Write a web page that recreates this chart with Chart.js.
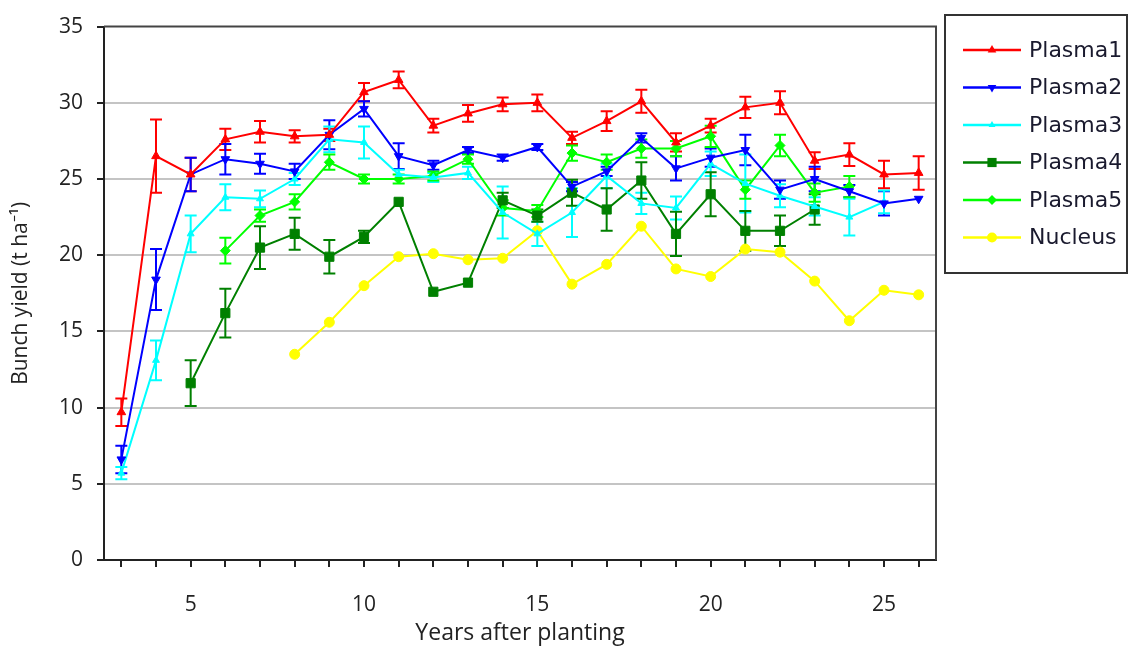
<!DOCTYPE html>
<html>
<head>
<meta charset="utf-8">
<script src="https://cdn.jsdelivr.net/npm/chart.js@4.4.1/dist/chart.umd.min.js"></script>
<style>
  body { margin: 0; background: #fff; }
  #wrap { width: 1132px; height: 649px; }
</style>
</head>
<body>
<div id="wrap"><canvas id="graficoRendimento" width="1132" height="649"></canvas></div>
<script>
// anos após o plantio (eixo x)
const years = [3, 4, 5, 6, 7, 8, 9, 10, 11, 12, 13, 14, 15, 16, 17, 18, 19, 20, 21, 22, 23, 24, 25, 26];
const yTicks = [0, 5, 10, 15, 20, 25, 30, 35];

const plasma1 = [9.7, 26.5, 25.3, 27.6, 28.1, 27.8, 27.9, 30.7, 31.5, 28.5, 29.3, 29.9, 30.0, 27.7, 28.8, 30.1, 27.4, 28.5, 29.7, 30.0, 26.2, 26.6, 25.3, 25.4];
const plasma1Err = [0.9, 2.4, 1.1, 0.7, 0.7, 0.4, 0.4, 0.6, 0.55, 0.45, 0.55, 0.45, 0.55, 0.4, 0.65, 0.75, 0.6, 0.45, 0.7, 0.75, 0.55, 0.75, 0.9, 1.1];

const plasma2 = [6.6, 18.4, 25.3, 26.3, 26.0, 25.5, 27.9, 29.6, 26.5, 25.9, 26.9, 26.4, 27.1, 24.5, 25.5, 27.7, 25.7, 26.4, 26.9, 24.3, 25.0, 24.2, 23.4, 23.7];
const plasma2Err = [0.9, 2.0, 1.1, 1.0, 0.65, 0.5, 0.95, 0.5, 0.85, 0.3, 0.2, 0.2, 0.2, 0.3, 0.3, 0.3, 0.8, 0.6, 1.0, 0.6, 0.8, 0.4, 0.8, null];

const plasma3 = [5.7, 13.1, 21.4, 23.8, 23.7, 25.0, 27.6, 27.4, 25.3, 25.1, 25.4, 22.8, 21.4, 22.8, 25.2, 23.4, 23.1, 26.0, 24.7, 23.9, 23.2, 22.5, 23.5, null];
const plasma3Err = [0.4, 1.3, 1.2, 0.85, 0.55, 0.4, 0.85, 1.05, 0.3, 0.3, 0.4, 1.7, 0.8, 1.6, 0.8, 0.7, 0.75, 0.8, 1.9, 0.75, 0.6, 1.2, 0.75, null];

const plasma4 = [null, null, 11.6, 16.2, 20.5, 21.4, 19.9, 21.2, 23.5, 17.6, 18.2, 23.6, 22.6, 24.1, 23.0, 24.9, 21.4, 24.0, 21.6, 21.6, 23.0, null, null, null];
const plasma4Err = [null, null, 1.5, 1.6, 1.4, 1.05, 1.1, 0.4, null, null, null, 0.5, 0.4, 0.85, 1.4, 1.2, 1.45, 1.45, 1.3, 1.0, 1.0, null, null, null];

const plasma5 = [null, null, null, 20.3, 22.6, 23.5, 26.1, 25.0, 25.0, 25.2, 26.3, 23.1, 22.9, 26.7, 26.1, 27.0, 27.0, 27.8, 24.3, 27.2, 24.1, 24.5, null, null];
const plasma5Err = [null, null, null, 0.85, 0.4, 0.5, 0.5, 0.3, 0.3, 0.3, 0.3, 0.5, 0.4, 0.5, 0.5, 0.6, 0.5, 0.7, 0.6, 0.7, 0.6, 0.7, null, null];

const nucleus = [null, null, null, null, null, 13.5, 15.6, 18.0, 19.9, 20.1, 19.7, 19.8, 21.6, 18.1, 19.4, 21.9, 19.1, 18.6, 20.4, 20.2, 18.3, 15.7, 17.7, 17.4];

function serie(label, data, err, color, pointStyle, radius, rotation) {
    return {
        label: label,
        data: data,
        erros: err,
        borderColor: color,
        backgroundColor: color,
        borderWidth: 2,
        pointStyle: pointStyle,
        pointRadius: radius,
        pointRotation: rotation || 0,
        pointBorderWidth: 1,
        pointBackgroundColor: color,
        pointBorderColor: color,
        tension: 0
    }
}

const datasets = [
    serie('Plasma1', plasma1, plasma1Err, '#ff0000', 'triangle', 5),
    serie('Plasma2', plasma2, plasma2Err, '#0000ff', 'triangle', 5, 180),
    serie('Plasma3', plasma3, plasma3Err, '#00ffff', 'triangle', 4),
    serie('Plasma4', plasma4, plasma4Err, '#008000', 'rect', 6.5),
    serie('Plasma5', plasma5, plasma5Err, '#00ff00', 'rectRot', 5),
    serie('Nucleus', nucleus, null, '#ffff00', 'circle', 5)
];

// barras de erro desenhadas com as escalas do grafico
const errorBars = {
    id: 'errorBars',
    beforeDatasetsDraw(chart) {
        const ctx = chart.ctx;
        const yScale = chart.scales.y;
        chart.data.datasets.forEach((ds, i) => {
            if (!ds.erros) return;
            const meta = chart.getDatasetMeta(i);
            ctx.save();
            ctx.strokeStyle = ds.borderColor;
            ctx.lineWidth = 2;
            ds.data.forEach((v, j) => {
                const e = ds.erros[j];
                if (v == null || e == null) return;
                const x = meta.data[j].x;
                const yt = yScale.getPixelForValue(v + e);
                const yb = yScale.getPixelForValue(v - e);
                ctx.beginPath();
                ctx.moveTo(x, yt); ctx.lineTo(x, yb);
                ctx.moveTo(x - 6, yt); ctx.lineTo(x + 6, yt);
                ctx.moveTo(x - 6, yb); ctx.lineTo(x + 6, yb);
                ctx.stroke();
            });
            ctx.restore();
        });
    }
};

// moldura da area do grafico e legenda em caixa
const frameAndLegend = {
    id: 'frameAndLegend',
    afterDraw(chart) {
        const ctx = chart.ctx;
        const a = chart.chartArea;
        ctx.save();
        ctx.strokeStyle = '#444';
        ctx.lineWidth = 2;
        ctx.beginPath();
        ctx.moveTo(a.left, a.top);
        ctx.lineTo(a.right, a.top);
        ctx.lineTo(a.right, a.bottom);
        ctx.stroke();

        ctx.strokeStyle = '#333';
        ctx.strokeRect(945, 15, 182, 258);

        ctx.font = '22px "DejaVu Sans"';
        ctx.textBaseline = 'middle';
        ctx.textAlign = 'left';
        chart.data.datasets.forEach((ds, i) => {
            const y = 50 + i * 37.5;
            ctx.strokeStyle = ds.borderColor;
            ctx.lineWidth = 2.5;
            ctx.beginPath();
            ctx.moveTo(963, y); ctx.lineTo(1021, y);
            ctx.stroke();
            ctx.fillStyle = ds.borderColor;
            ctx.lineWidth = 1;
            Chart.helpers.drawPoint(ctx, {
                pointStyle: ds.pointStyle,
                radius: ds.pointRadius,
                rotation: ds.pointRotation
            }, 992, y);
            ctx.fillStyle = '#1a1a2e';
            ctx.fillText(ds.label, 1029, y + 1);
        });
        ctx.restore();
    }
};

new Chart(document.getElementById('graficoRendimento'), {
    type: 'line',
    data: { labels: years, datasets: datasets },
    options: {
        responsive: false,
        animation: false,
        layout: { padding: { top: 15, right: 196, left: 0, bottom: 0 } },
        plugins: {
            legend: { display: false },
            tooltip: { enabled: false }
        },
        scales: {
            x: {
                type: 'category',
                offset: true,
                afterFit: s => { s.height = 89 },
                grid: {
                    offset: false,
                    drawOnChartArea: false,
                    color: '#222',
                    lineWidth: 2,
                    tickLength: 7
                },
                border: { display: true, color: '#222', width: 2 },
                ticks: {
                    autoSkip: false,
                    maxRotation: 0,
                    padding: 25,
                    color: '#222',
                    font: { family: 'Open Sans', size: 21 },
                    callback: function (value, index) {
                        const ano = years[index];
                        return ano % 5 === 0 ? String(ano) : '';
                    }
                },
                title: {
                    display: true,
                    text: 'Years after planting',
                    color: '#222',
                    font: { family: 'Open Sans', size: 23 },
                    padding: { top: 0, bottom: 2 }
                }
            },
            y: {
                min: 0,
                max: 35,
                afterFit: s => { s.width = 104 },
                afterBuildTicks: s => { s.ticks = yTicks.map(v => ({ value: v })) },
                grid: {
                    color: ctx => (ctx.tick && (ctx.tick.value === 0 || ctx.tick.value === 35)) ? 'rgba(0,0,0,0)' : '#c4c4c4',
                    lineWidth: 2,
                    tickColor: '#222',
                    tickLength: 7
                },
                border: { display: true, color: '#222', width: 2 },
                ticks: {
                    padding: 14,
                    color: '#222',
                    font: { family: 'Open Sans', size: 21 }
                },
                title: {
                    display: true,
                    text: 'Bunch yield (t ha⁻¹)',
                    color: '#222',
                    font: { family: 'Open Sans', size: 21 },
                    padding: { top: 8, bottom: 0 }
                }
            }
        }
    },
    plugins: [errorBars, frameAndLegend]
})
</script>
</body>
</html>
